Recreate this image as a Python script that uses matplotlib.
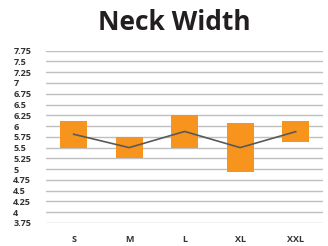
import matplotlib.pyplot as plt
import numpy as np

# neck width ranges per size
sizes = ['S', 'M', 'L', 'XL', 'XXL']
low = [5.5, 5.25, 5.5, 4.93, 5.62]
high = [6.12, 5.75, 6.25, 6.07, 6.12]
mid = [5.81, 5.5, 5.875, 5.5, 5.87]
yticks = np.arange(3.75, 7.76, 0.25)
ytick_labels = ['3.75', '4', '4.25', '4.5', '4.75', '5', '5.25', '5.5', '5.75',
                '6', '6.25', '6.5', '6.75', '7', '7.25', '7.5', '7.75']

fig = plt.figure(figsize=(3.28, 2.46), dpi=100)
ax = fig.add_axes([0.140, 0.0935, 0.846, 0.7005])

x = np.arange(len(sizes))
ax.bar(x, np.array(high) - np.array(low), bottom=low, width=0.49,
       color='#F7941D', zorder=2)
ax.plot(x, mid, color='#595959', lw=1.2, zorder=3)

ax.set_xlim(-0.5, len(sizes) - 0.5)
ax.set_ylim(3.75, 7.75)
ax.set_yticks(yticks)
ax.set_yticklabels(ytick_labels, fontsize=6.5, fontweight='bold',
                   color='#333333', ha='left', family='Open Sans')
ax.set_xticks(x)
ax.set_xticklabels(sizes, fontsize=6.5, fontweight='bold', color='#333333',
                   family='Open Sans')
ax.tick_params(axis='y', length=0, pad=23.5)
ax.tick_params(axis='x', length=0, pad=9)
ax.grid(axis='y', color='#BFBFBF', lw=1, zorder=0)
for s in ax.spines.values():
    s.set_visible(False)

fig.suptitle('Neck Width', x=0.53, y=0.965, fontsize=19, fontweight='bold',
             color='#231F20', family='Open Sans')

fig.savefig('out.png', dpi=100)
